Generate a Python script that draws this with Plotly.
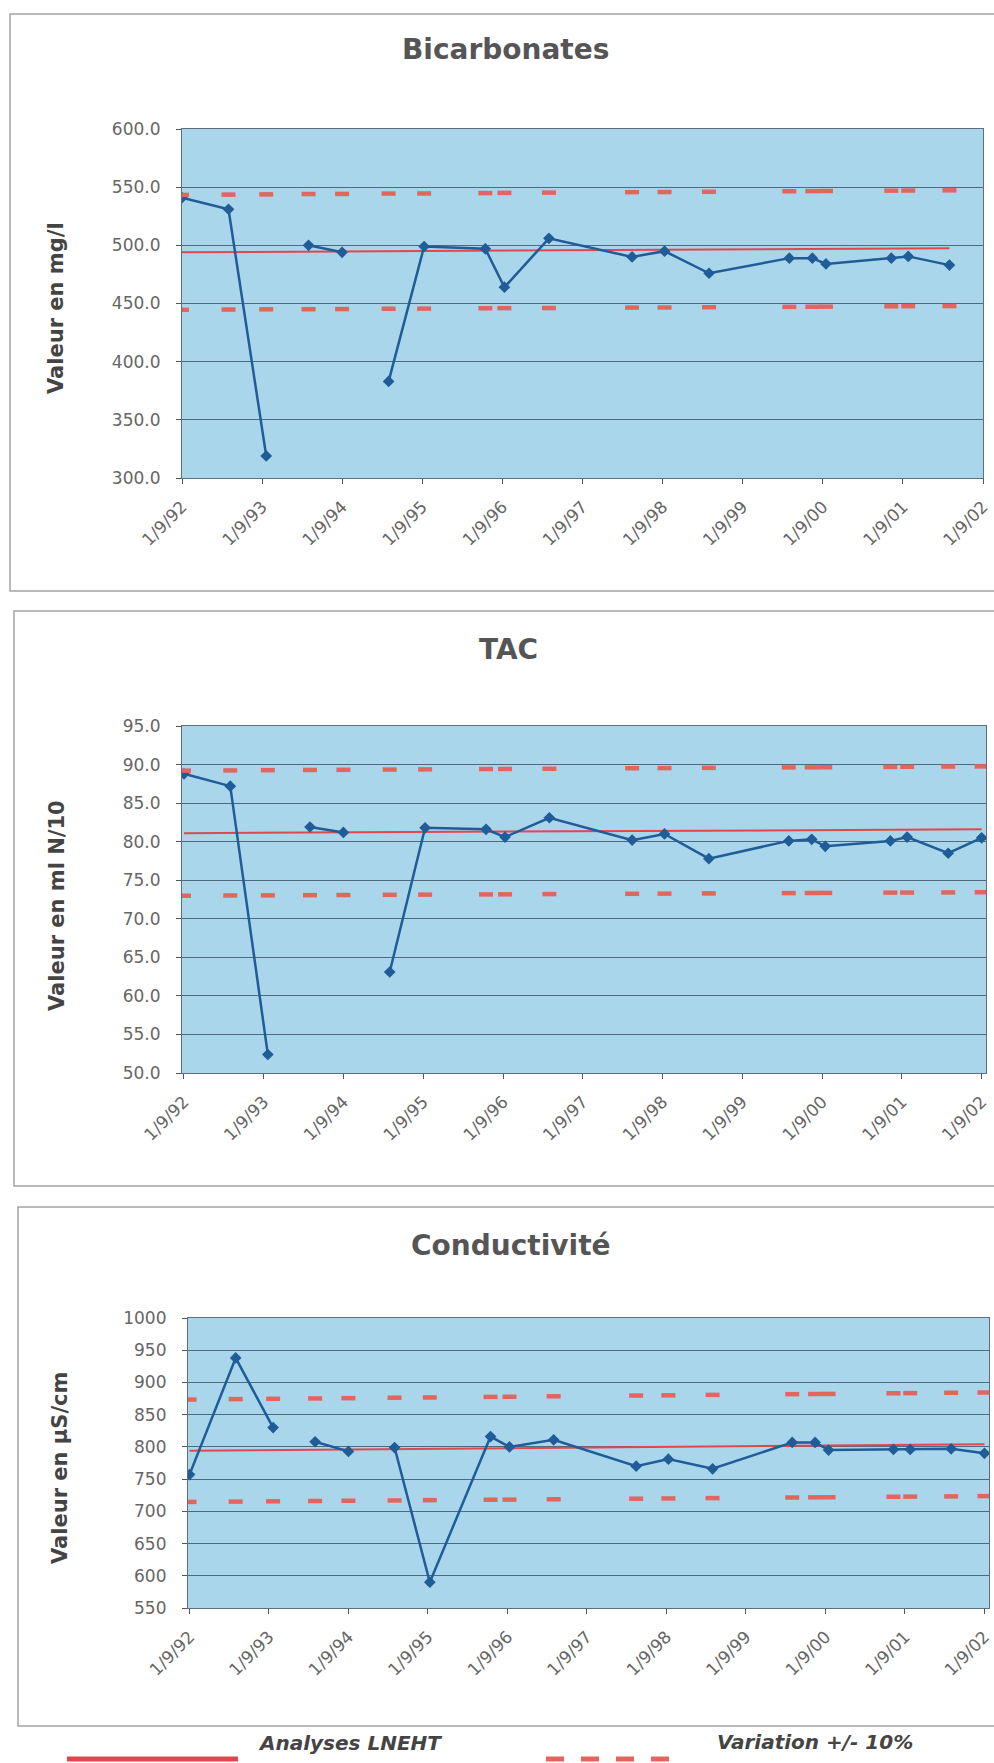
import plotly.graph_objects as go

W, H = 994, 1763

# ---------------- data ----------------
DATES = ["1992-09-01", "1993-04-01", "1993-09-20", "1994-04-01", "1994-09-01",
         "1995-04-01", "1995-09-10", "1996-06-15", "1996-09-10", "1997-04-01",
         "1998-04-15", "1998-09-10", "1999-04-01", "2000-04-01", "2000-07-15",
         "2000-09-15", "2001-07-10", "2001-09-25", "2002-04-01", "2002-09-01"]

TICK_DATES = ["1992-09-01", "1993-09-01", "1994-09-01", "1995-09-01", "1996-09-01",
              "1997-09-01", "1998-09-01", "1999-09-01", "2000-09-01", "2001-09-01",
              "2002-09-01"]
TICK_LABELS = ["1/9/92", "1/9/93", "1/9/94", "1/9/95", "1/9/96", "1/9/97",
               "1/9/98", "1/9/99", "1/9/00", "1/9/01", "1/9/02"]

BICARB = [541, 531, 319, 500, 494, 383, 499, 497, 464, 506,
          490, 495, 476, 489, 489, 484, 489, 490.5, 483, None]
BICARB_MEAN = [494.0, 494.2, 494.4, 494.6, 494.7, 495.0, 495.1, 495.4, 495.5, 495.7,
               496.1, 496.2, 496.4, 496.8, 496.9, 497.0, 497.3, 497.4, 497.5, None]
BICARB_UP = [543.4, 543.6, 543.8, 544.1, 544.2, 544.5, 544.6, 544.9, 545.1, 545.3,
             545.7, 545.8, 546.0, 546.5, 546.6, 546.7, 547.0, 547.1, 547.3, None]
BICARB_LOW = [444.6, 444.8, 445.0, 445.1, 445.2, 445.5, 445.6, 445.9, 446.0, 446.1,
              446.5, 446.6, 446.8, 447.1, 447.2, 447.3, 447.6, 447.7, 447.8, None]

TAC = [88.8, 87.2, 52.4, 81.9, 81.2, 63.1, 81.8, 81.6, 80.6, 83.1,
       80.2, 81.0, 77.8, 80.1, 80.3, 79.4, 80.1, 80.6, 78.5, 80.5]
TAC_MEAN = [81.10, 81.13, 81.15, 81.18, 81.20, 81.23, 81.25, 81.29, 81.30, 81.33,
            81.38, 81.40, 81.43, 81.48, 81.49, 81.50, 81.54, 81.55, 81.58, 81.60]
TAC_UP = [89.21, 89.24, 89.27, 89.30, 89.32, 89.35, 89.38, 89.42, 89.43, 89.46,
          89.52, 89.54, 89.57, 89.63, 89.64, 89.65, 89.69, 89.71, 89.74, 89.76]
TAC_LOW = [72.99, 73.02, 73.04, 73.06, 73.08, 73.11, 73.13, 73.16, 73.17, 73.20,
           73.24, 73.26, 73.29, 73.33, 73.34, 73.35, 73.39, 73.40, 73.42, 73.44]

COND = [757, 938, 830, 808, 793, 799, 590, 816, 800, 811,
        770, 781, 766, 807, 807, 795, 796, 796, 797, 790]
COND_MEAN = [794.0, 794.6, 795.1, 795.6, 796.0, 796.6, 797.0, 797.8, 798.0, 798.6,
             799.6, 800.0, 800.6, 801.6, 801.9, 802.0, 802.9, 803.1, 803.6, 804.0]
COND_UP = [873.4, 874.1, 874.6, 875.2, 875.6, 876.3, 876.7, 877.6, 877.8, 878.5,
           879.6, 880.0, 880.7, 881.8, 882.1, 882.2, 883.2, 883.4, 884.0, 884.4]
COND_LOW = [714.6, 715.1, 715.6, 716.0, 716.4, 716.9, 717.3, 718.0, 718.2, 718.7,
            719.6, 720.0, 720.5, 721.4, 721.7, 721.8, 722.6, 722.8, 723.2, 723.6]

# measurement series is interrupted after these indices (blank cells)
BREAK_AFTER = [2, 4]

# ---------------- styling ----------------
FONT = "DejaVu Sans"
BG = "#a9d6ea"
GRID = "#4f6a7e"
BLUE = "#1f5c98"
RED_LINE = "#e0474f"
RED_DASH = "#e3665e"


def px_x(p):
    return p / W


def px_y(p):
    return 1 - p / H


def with_breaks(xs, ys):
    X, Y = [], []
    for i, (x, y) in enumerate(zip(xs, ys)):
        X.append(x)
        Y.append(y)
        if i in BREAK_AFTER:
            X.append(None)
            Y.append(None)
    return X, Y


panels = [
    dict(title="Bicarbonates", ytitle="Valeur en mg/l", vals=BICARB, mean=BICARB_MEAN,
         up=BICARB_UP, low=BICARB_LOW, yrange=[300, 600], dtick=50, fmt=".1f",
         xd=(182, 983), yd=(129, 478), xr=["1992-09-01", "2002-09-01"],
         frame=(10, 14, 591), tpos=(505, 50), ypos=(56, 308)),
    dict(title="TAC", ytitle="Valeur en ml N/10", vals=TAC, mean=TAC_MEAN,
         up=TAC_UP, low=TAC_LOW, yrange=[50, 95], dtick=5, fmt=".1f",
         xd=(182, 986), yd=(726, 1073), xr=["1992-08-23", "2002-09-21"],
         frame=(14, 611, 1186), tpos=(508, 649), ypos=(57, 906)),
    dict(title="Conductivité", ytitle="Valeur en µS/cm", vals=COND, mean=COND_MEAN,
         up=COND_UP, low=COND_LOW, yrange=[550, 1000], dtick=50, fmt="d",
         xd=(188, 989), yd=(1318, 1608), xr=["1992-08-25", "2002-09-22"],
         frame=(18, 1207, 1726), tpos=(511, 1245), ypos=(60, 1468)),
]

fig = go.Figure()
shapes = []
annotations = []
layout = {}

for k, p in enumerate(panels, start=1):
    sx = "" if k == 1 else str(k)
    xa, ya = "x" + sx, "y" + sx

    # mean line (Analyses LNEHT)
    fig.add_trace(go.Scatter(x=DATES, y=p["mean"], xaxis=xa, yaxis=ya, mode="lines",
                             line=dict(color=RED_LINE, width=2), showlegend=False,
                             hoverinfo="skip"))
    # measurements
    X, Y = with_breaks(DATES, p["vals"])
    fig.add_trace(go.Scatter(x=X, y=Y, xaxis=xa, yaxis=ya, mode="lines+markers",
                             connectgaps=False,
                             line=dict(color=BLUE, width=2.5),
                             marker=dict(symbol="diamond", size=9, color=BLUE),
                             showlegend=False))
    # +/- 10 % limits as dash markers
    for lim in (p["up"], p["low"]):
        fig.add_trace(go.Scatter(x=DATES, y=lim, xaxis=xa, yaxis=ya, mode="markers",
                                 marker=dict(symbol="line-ew", size=10,
                                             line=dict(color=RED_DASH, width=4.5)),
                                 showlegend=False, hoverinfo="skip"))

    layout["xaxis" + sx] = dict(
        domain=[px_x(p["xd"][0]), px_x(p["xd"][1])], anchor=ya, type="date",
        range=p["xr"], tickmode="array", tickvals=TICK_DATES, ticktext=TICK_LABELS,
        tickangle=-45, ticks="outside", ticklen=5, tickcolor="#555",
        tickfont=dict(family=FONT, size=17, color="#666"), automargin=False,
        showgrid=False, zeroline=False, showline=True, linecolor="#5d6f7c",
        linewidth=1.2, mirror=True, ticklabelstandoff=6)
    layout["yaxis" + sx] = dict(
        domain=[px_y(p["yd"][1]), px_y(p["yd"][0])], anchor=xa,
        range=p["yrange"], dtick=p["dtick"], tick0=0, tickformat=p["fmt"],
        ticks="outside", ticklen=5, tickcolor="#555", automargin=False,
        tickfont=dict(family=FONT, size=17, color="#666"),
        showgrid=True, gridcolor=GRID, gridwidth=1.2, zeroline=False,
        showline=True, linecolor="#5d6f7c", linewidth=1.2, mirror=True,
        ticklabelstandoff=12)

    # plot area background
    shapes.append(dict(type="rect", xref="paper", yref="paper", layer="below",
                       x0=px_x(p["xd"][0]), x1=px_x(p["xd"][1]),
                       y0=px_y(p["yd"][1]), y1=px_y(p["yd"][0]),
                       fillcolor=BG, line=dict(width=0)))
    # chart frame
    fl, ft, fb = p["frame"]
    shapes.append(dict(type="rect", xref="paper", yref="paper", layer="below",
                       x0=px_x(fl), x1=1.02, y0=px_y(fb), y1=px_y(ft),
                       line=dict(color="#a4a4a4", width=1.5)))
    annotations.append(dict(text="<b>" + p["title"] + "</b>", xref="paper", yref="paper",
                            x=px_x(p["tpos"][0]), y=px_y(p["tpos"][1]),
                            xanchor="center", yanchor="middle", showarrow=False,
                            font=dict(family=FONT, size=28, color="#555")))
    annotations.append(dict(text="<b>" + p["ytitle"] + "</b>", xref="paper", yref="paper",
                            x=px_x(p["ypos"][0]), y=px_y(p["ypos"][1]), textangle=-90,
                            xanchor="center", yanchor="middle", showarrow=False,
                            font=dict(family=FONT, size=21, color="#444")))

# legend (drawn below the last chart)
shapes.append(dict(type="line", xref="paper", yref="paper",
                   x0=px_x(67), x1=px_x(238), y0=px_y(1759), y1=px_y(1759),
                   line=dict(color=RED_LINE, width=5)))
shapes.append(dict(type="line", xref="paper", yref="paper",
                   x0=px_x(546), x1=px_x(681), y0=px_y(1759), y1=px_y(1759),
                   line=dict(color=RED_DASH, width=5, dash="18px,17px")))
annotations.append(dict(text="<b><i>Analyses LNEHT</i></b>", xref="paper", yref="paper",
                        x=px_x(350), y=px_y(1743), xanchor="center", yanchor="middle",
                        showarrow=False, font=dict(family=FONT, size=20, color="#444")))
annotations.append(dict(text="<b><i>Variation +/- 10%</i></b>", xref="paper", yref="paper",
                        x=px_x(815), y=px_y(1742), xanchor="center", yanchor="middle",
                        showarrow=False, font=dict(family=FONT, size=20, color="#444")))

fig.update_layout(width=W, height=H, margin=dict(l=0, r=0, t=0, b=0, autoexpand=False),
                  paper_bgcolor="white", plot_bgcolor="rgba(0,0,0,0)",
                  showlegend=False, shapes=shapes, annotations=annotations, **layout)

fig.write_html("out.html")
